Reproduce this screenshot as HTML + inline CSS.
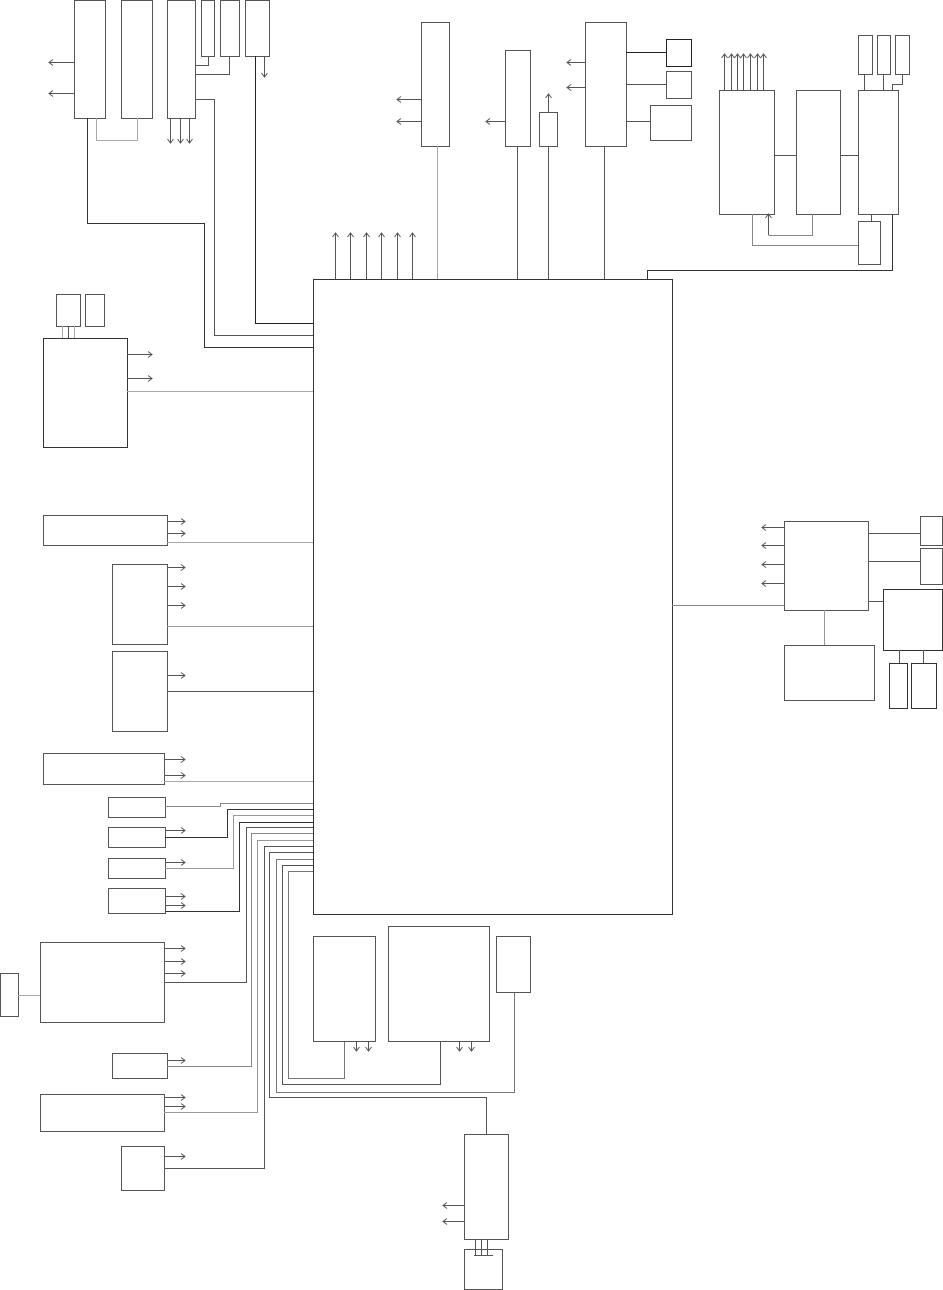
<!DOCTYPE html>
<html><head><meta charset="utf-8"><style>html,body{margin:0;padding:0;background:#fff}svg{display:block}</style></head>
<body>
<svg width="943" height="1290" viewBox="0 0 943 1290" xmlns="http://www.w3.org/2000/svg">
<defs>
<marker id="a" markerUnits="userSpaceOnUse" markerWidth="8" markerHeight="8" refX="5" refY="4" orient="auto">
<path d="M1,1 L5,4 L1,7" fill="none" stroke="#555" stroke-width="1"/>
</marker>
</defs>
<g fill="none" stroke="#555" stroke-width="1" shape-rendering="crispEdges">
<!-- main -->
<rect x="313.5" y="279.5" width="359" height="635" stroke="#333"/>
<!-- top left -->
<rect x="74.5" y="0.5" width="31" height="118"/>
<rect x="121.5" y="0.5" width="31" height="118"/>
<rect x="167.5" y="0.5" width="28" height="118"/>
<rect x="201.5" y="0.5" width="13" height="56"/>
<rect x="220.5" y="0.5" width="19" height="56"/>
<rect x="245.5" y="0.5" width="24" height="56"/>
<polyline points="96.5,118 96.5,140.5 137.5,140.5 137.5,118" stroke="#aaa"/>
<polyline points="208.5,56 208.5,65.5 195,65.5"/>
<polyline points="229.5,56 229.5,74.5 195,74.5"/>
<polyline points="255.5,56 255.5,323.5 313,323.5" stroke="#222"/>
<polyline points="195,99.5 214.5,99.5 214.5,335.5 313,335.5"/>
<polyline points="87.5,118 87.5,223.5 204.5,223.5 204.5,347.5 313,347.5" stroke="#333"/>
<g marker-end="url(#a)">
<line x1="74" y1="62.5" x2="49" y2="62.5"/>
<line x1="74" y1="93.5" x2="49" y2="93.5"/>
<line x1="170.5" y1="118" x2="170.5" y2="143"/>
<line x1="180.5" y1="118" x2="180.5" y2="143"/>
<line x1="189.5" y1="118" x2="189.5" y2="143"/>
<line x1="264.5" y1="56" x2="264.5" y2="77"/>
</g>
<!-- left -->
<rect x="56.5" y="294.5" width="24" height="32"/>
<rect x="85.5" y="294.5" width="19" height="32"/>
<line x1="62.5" y1="326" x2="62.5" y2="338" stroke="#aaa"/>
<line x1="68.5" y1="326" x2="68.5" y2="338"/>
<line x1="74.5" y1="326" x2="74.5" y2="338" stroke="#aaa"/>
<rect x="43.5" y="338.5" width="84" height="109" stroke="#333"/>
<line x1="127" y1="391.5" x2="313" y2="391.5" stroke="#aaa"/>
<rect x="43.5" y="515.5" width="124" height="30"/>
<line x1="167" y1="542.5" x2="313" y2="542.5" stroke="#aaa"/>
<rect x="112.5" y="564.5" width="55" height="80"/>
<line x1="167" y1="626.5" x2="313" y2="626.5" stroke="#999"/>
<rect x="112.5" y="651.5" width="55" height="80"/>
<line x1="167" y1="691.5" x2="313" y2="691.5"/>
<rect x="43.5" y="753.5" width="121" height="31"/>
<line x1="164" y1="781.5" x2="313" y2="781.5" stroke="#aaa"/>
<rect x="108.5" y="797.5" width="57" height="20"/>
<rect x="108.5" y="827.5" width="57" height="20"/>
<rect x="108.5" y="858.5" width="57" height="20"/>
<rect x="108.5" y="888.5" width="57" height="25"/>
<rect x="40.5" y="942.5" width="124" height="80"/>
<rect x="0.5" y="973.5" width="18" height="43"/>
<line x1="18" y1="995.5" x2="40" y2="995.5" stroke="#aaa"/>
<rect x="112.5" y="1053.5" width="55" height="25"/>
<rect x="40.5" y="1094.5" width="124" height="37"/>
<rect x="121.5" y="1146.5" width="43" height="44"/>
<polyline points="165,806.5 220.5,806.5 220.5,803.5 313,803.5" stroke="#888"/>
<polyline points="165,837.5 227.5,837.5 227.5,809.5 313,809.5" stroke="#333"/>
<polyline points="165,868.5 233.5,868.5 233.5,815.5 313,815.5" stroke="#999"/>
<polyline points="165,911.5 239.5,911.5 239.5,822.5 313,822.5" stroke="#333"/>
<polyline points="164,982.5 246.5,982.5 246.5,827.5 313,827.5"/>
<polyline points="167,1066.5 251.5,1066.5 251.5,833.5 313,833.5" stroke="#888"/>
<polyline points="164,1112.5 257.5,1112.5 257.5,840.5 313,840.5" stroke="#999"/>
<polyline points="164,1168.5 264.5,1168.5 264.5,846.5 313,846.5"/>
<polyline points="313,852.5 269.5,852.5 269.5,1097.5 486.5,1097.5 486.5,1134"/>
<polyline points="313,859.5 276.5,859.5 276.5,1092.5 514.5,1092.5 514.5,992" stroke="#777"/>
<polyline points="313,865.5 282.5,865.5 282.5,1084.5 440.5,1084.5 440.5,1041"/>
<polyline points="313,871.5 288.5,871.5 288.5,1078.5 344.5,1078.5 344.5,1041" stroke="#777"/>
<g marker-end="url(#a)">
<line x1="127" y1="354.5" x2="152" y2="354.5"/>
<line x1="127" y1="378.5" x2="152" y2="378.5"/>
<line x1="167" y1="521.5" x2="185" y2="521.5"/>
<line x1="167" y1="533.5" x2="185" y2="533.5"/>
<line x1="167" y1="567.5" x2="185" y2="567.5"/>
<line x1="167" y1="586.5" x2="185" y2="586.5"/>
<line x1="167" y1="605.5" x2="185" y2="605.5"/>
<line x1="167" y1="675.5" x2="185" y2="675.5"/>
<line x1="164" y1="759.5" x2="185" y2="759.5"/>
<line x1="164" y1="775.5" x2="185" y2="775.5"/>
<line x1="165" y1="830.5" x2="185" y2="830.5"/>
<line x1="165" y1="862.5" x2="185" y2="862.5"/>
<line x1="165" y1="896.5" x2="185" y2="896.5"/>
<line x1="165" y1="905.5" x2="185" y2="905.5"/>
<line x1="164" y1="948.5" x2="185" y2="948.5"/>
<line x1="164" y1="961.5" x2="185" y2="961.5"/>
<line x1="164" y1="973.5" x2="185" y2="973.5"/>
<line x1="167" y1="1060.5" x2="185" y2="1060.5"/>
<line x1="164" y1="1097.5" x2="185" y2="1097.5"/>
<line x1="164" y1="1106.5" x2="185" y2="1106.5"/>
<line x1="164" y1="1156.5" x2="185" y2="1156.5"/>
</g>
<!-- bottom -->
<rect x="313.5" y="936.5" width="62" height="105"/>
<rect x="388.5" y="926.5" width="101" height="115"/>
<rect x="496.5" y="936.5" width="34" height="56"/>
<rect x="464.5" y="1134.5" width="44" height="105"/>
<rect x="464.5" y="1249.5" width="38" height="40"/>
<line x1="475.5" y1="1239" x2="475.5" y2="1255"/>
<line x1="481.5" y1="1239" x2="481.5" y2="1255"/>
<line x1="487.5" y1="1239" x2="487.5" y2="1255"/>
<line x1="474" y1="1255.5" x2="493" y2="1255.5"/>
<g marker-end="url(#a)">
<line x1="356.5" y1="1041" x2="356.5" y2="1051"/>
<line x1="368.5" y1="1041" x2="368.5" y2="1051"/>
<line x1="459.5" y1="1041" x2="459.5" y2="1051"/>
<line x1="471.5" y1="1041" x2="471.5" y2="1051"/>
<line x1="464" y1="1205.5" x2="443" y2="1205.5"/>
<line x1="464" y1="1221.5" x2="443" y2="1221.5"/>
</g>
<!-- top middle -->
<rect x="421.5" y="22.5" width="28" height="124"/>
<rect x="505.5" y="50.5" width="25" height="96"/>
<rect x="539.5" y="112.5" width="18" height="34"/>
<rect x="585.5" y="22.5" width="41" height="124"/>
<rect x="666.5" y="39.5" width="25" height="27" stroke="#222"/>
<rect x="666.5" y="71.5" width="25" height="27"/>
<rect x="650.5" y="105.5" width="41" height="35"/>
<line x1="437.5" y1="146" x2="437.5" y2="279" stroke="#aaa"/>
<line x1="517.5" y1="146" x2="517.5" y2="279"/>
<line x1="548.5" y1="146" x2="548.5" y2="279"/>
<line x1="604.5" y1="146" x2="604.5" y2="279"/>
<line x1="626" y1="52.5" x2="666" y2="52.5" stroke="#222"/>
<line x1="626" y1="84.5" x2="666" y2="84.5"/>
<line x1="626" y1="121.5" x2="650" y2="121.5"/>
<polyline points="647.5,279 647.5,270.5 892.5,270.5 892.5,214" stroke="#333"/>
<g marker-end="url(#a)">
<line x1="421" y1="99.5" x2="397" y2="99.5"/>
<line x1="421" y1="121.5" x2="397" y2="121.5"/>
<line x1="505" y1="121.5" x2="486" y2="121.5"/>
<line x1="548.5" y1="112" x2="548.5" y2="94"/>
<line x1="585" y1="62.5" x2="567" y2="62.5"/>
<line x1="585" y1="87.5" x2="567" y2="87.5"/>
<line x1="335.5" y1="279" x2="335.5" y2="233"/>
<line x1="350.5" y1="279" x2="350.5" y2="233"/>
<line x1="366.5" y1="279" x2="366.5" y2="233"/>
<line x1="381.5" y1="279" x2="381.5" y2="233"/>
<line x1="397.5" y1="279" x2="397.5" y2="233"/>
<line x1="412.5" y1="279" x2="412.5" y2="233"/>
</g>
<!-- top right -->
<rect x="719.5" y="90.5" width="55" height="124"/>
<rect x="796.5" y="90.5" width="44" height="124"/>
<rect x="858.5" y="90.5" width="40" height="124"/>
<rect x="858.5" y="35.5" width="14" height="39"/>
<rect x="877.5" y="35.5" width="13" height="39"/>
<rect x="895.5" y="35.5" width="14" height="39"/>
<rect x="858.5" y="221.5" width="22" height="43"/>
<line x1="774" y1="155.5" x2="796" y2="155.5"/>
<line x1="840" y1="155.5" x2="858" y2="155.5"/>
<line x1="864.5" y1="74" x2="864.5" y2="90"/>
<line x1="883.5" y1="74" x2="883.5" y2="90"/>
<polyline points="902.5,74 902.5,84.5 892.5,84.5 892.5,90"/>
<line x1="871.5" y1="214" x2="871.5" y2="221"/>
<polyline points="752.5,214 752.5,245.5 858,245.5" stroke="#888"/>
<polyline points="812.5,214 812.5,235.5 768.5,235.5" stroke="#888"/>
<g marker-end="url(#a)">
<line x1="768.5" y1="235" x2="768.5" y2="214"/>
<line x1="724.5" y1="90" x2="724.5" y2="54"/>
<line x1="731.5" y1="90" x2="731.5" y2="54"/>
<line x1="737.5" y1="90" x2="737.5" y2="54"/>
<line x1="743.5" y1="90" x2="743.5" y2="54"/>
<line x1="750.5" y1="90" x2="750.5" y2="54"/>
<line x1="757.5" y1="90" x2="757.5" y2="54"/>
<line x1="763.5" y1="90" x2="763.5" y2="54"/>
</g>
<!-- right -->
<line x1="672" y1="605.5" x2="784" y2="605.5" stroke="#888"/>
<rect x="784.5" y="521.5" width="84" height="89"/>
<rect x="920.5" y="516.5" width="22" height="29"/>
<rect x="920.5" y="548.5" width="22" height="36"/>
<rect x="883.5" y="589.5" width="59" height="61" stroke="#333"/>
<rect x="784.5" y="645.5" width="90" height="55"/>
<rect x="889.5" y="663.5" width="18" height="45" stroke="#333"/>
<rect x="911.5" y="663.5" width="25" height="45" stroke="#333"/>
<line x1="868" y1="533.5" x2="920" y2="533.5"/>
<line x1="868" y1="561.5" x2="920" y2="561.5"/>
<polyline points="868,601.5 883,601.5"/>
<line x1="824.5" y1="610" x2="824.5" y2="645" stroke="#999"/>
<line x1="899.5" y1="650" x2="899.5" y2="663"/>
<line x1="923.5" y1="650" x2="923.5" y2="663"/>
<g marker-end="url(#a)">
<line x1="784" y1="527.5" x2="762" y2="527.5"/>
<line x1="784" y1="545.5" x2="762" y2="545.5"/>
<line x1="784" y1="564.5" x2="762" y2="564.5"/>
<line x1="784" y1="583.5" x2="762" y2="583.5"/>
</g>
</g>
</svg>
</body></html>
